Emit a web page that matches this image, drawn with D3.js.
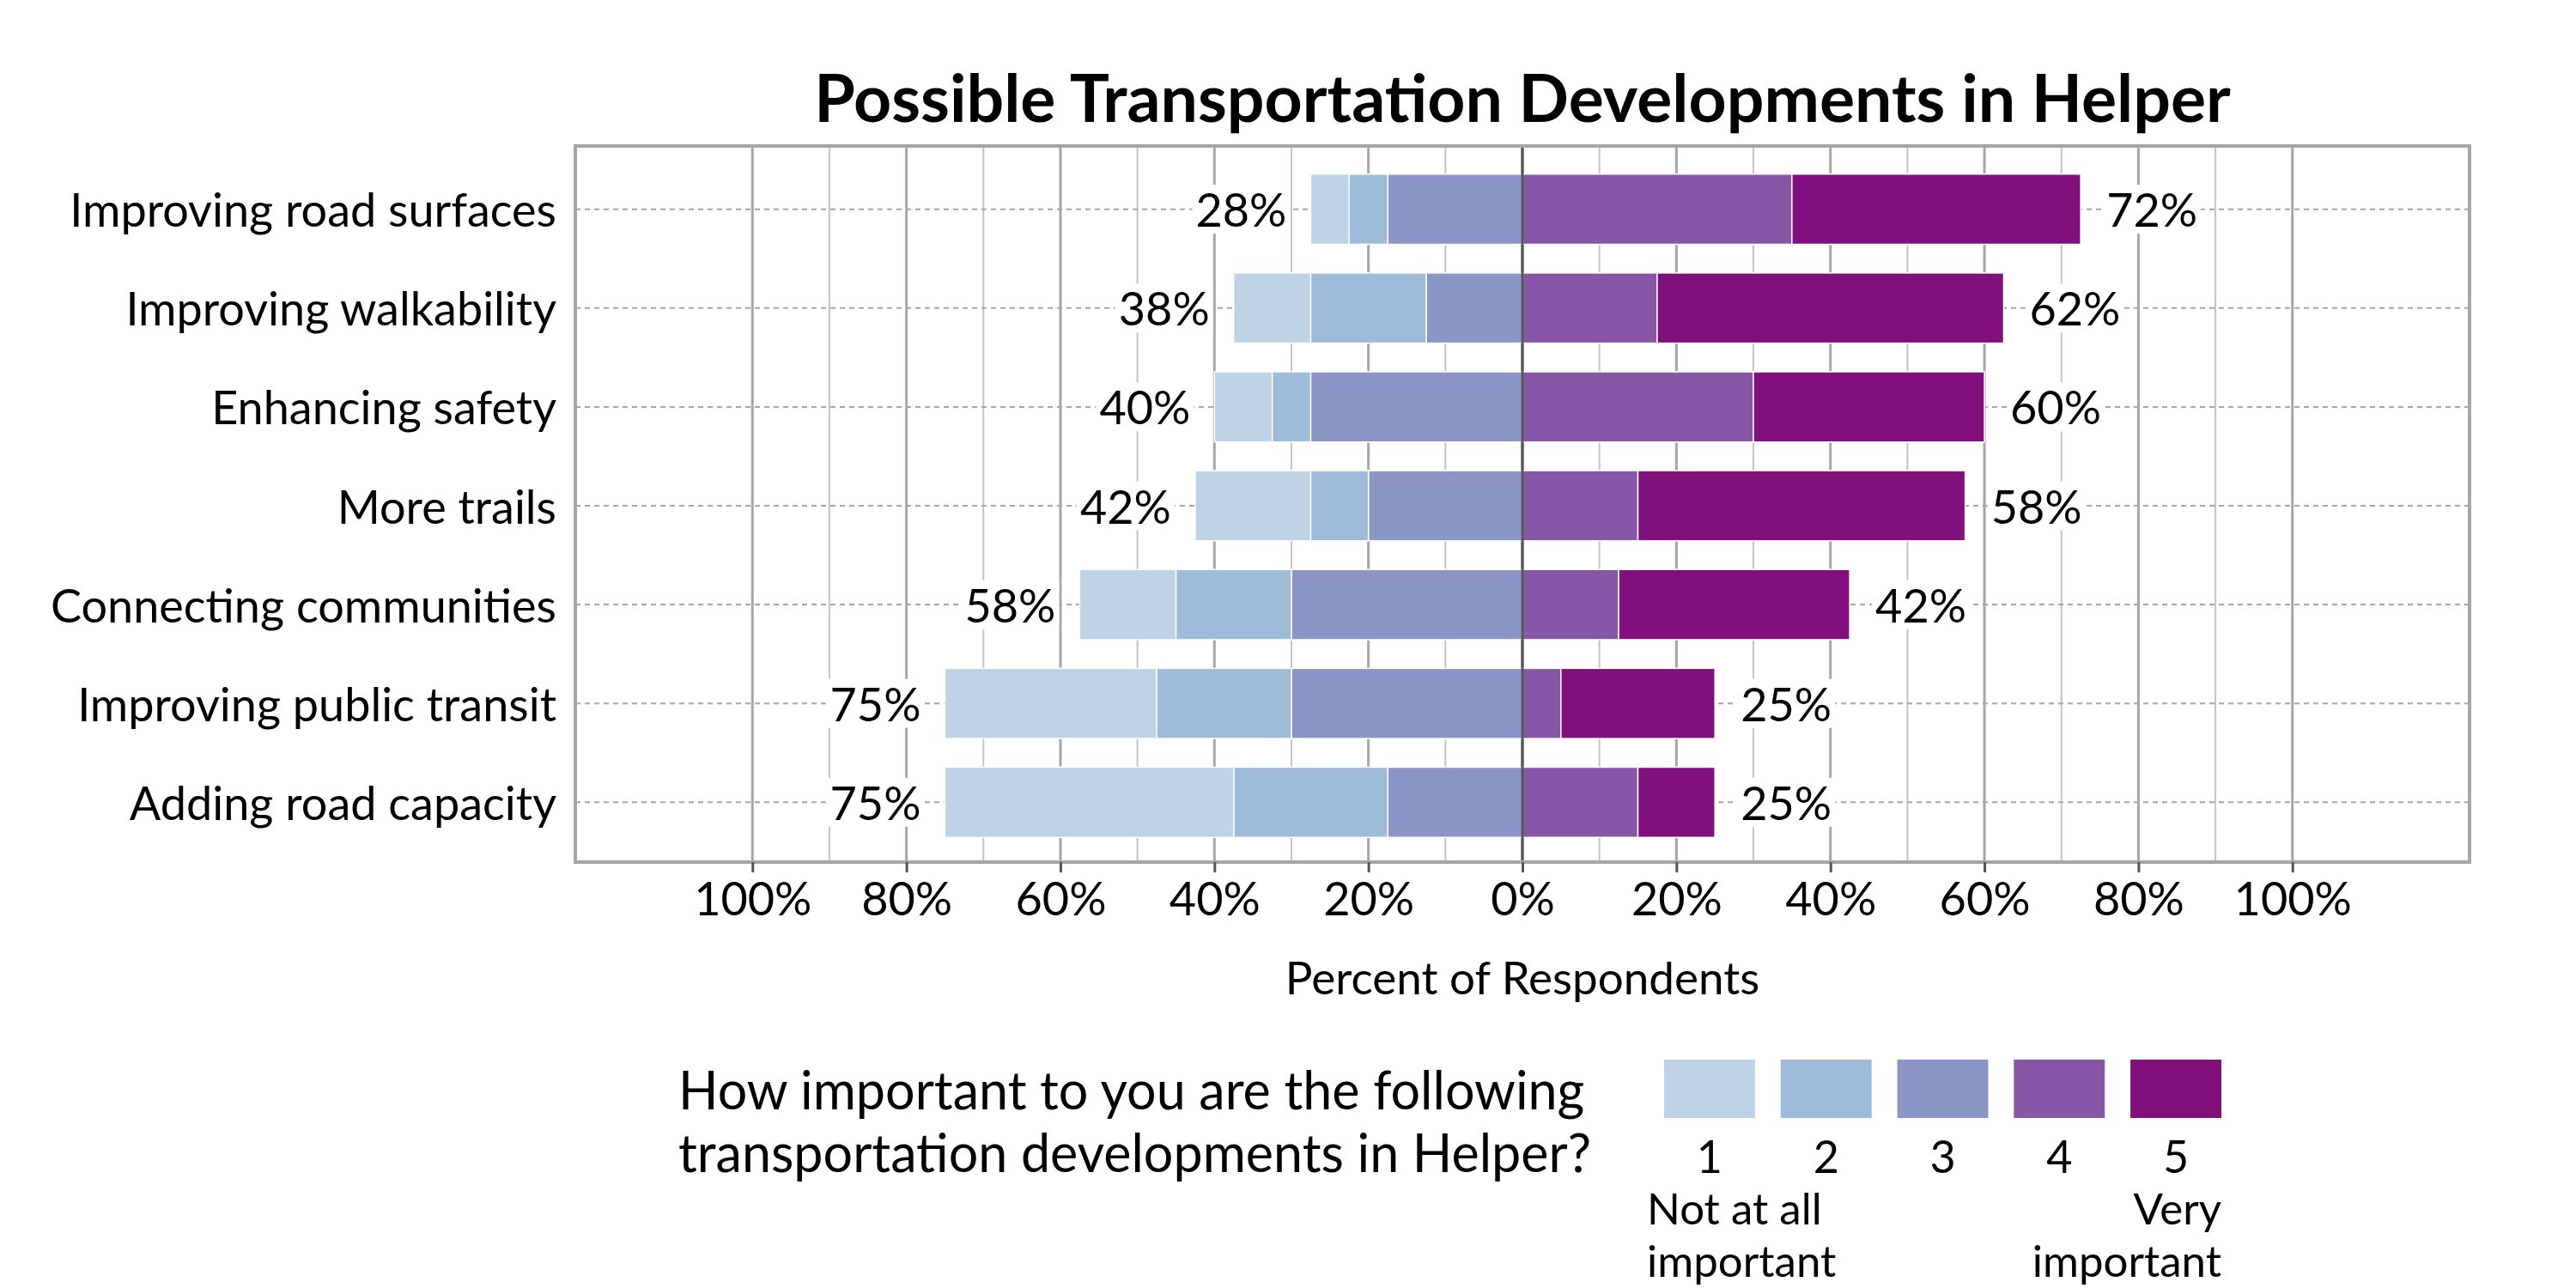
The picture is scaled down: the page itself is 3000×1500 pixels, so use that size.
<!DOCTYPE html>
<html>
<head>
<meta charset="utf-8">
<script src="https://cdn.jsdelivr.net/npm/d3@7"></script>
<style>
  body { margin: 0; background: #fff; }
  svg text { font-family: Lato, "Noto Sans", sans-serif; fill: #000; }
</style>
</head>
<body>
<svg id="chart" width="3000" height="1500"></svg>
<script>
const categories = ['Improving road surfaces', 'Improving walkability', 'Enhancing safety',
    'More trails', 'Connecting communities', 'Improving public transit', 'Adding road capacity'];

// percent of respondents per answer level (1 = not at all important ... 5 = very important)
const level1 = [5, 10, 7.5, 15, 12.5, 27.5, 37.5];
const level2 = [5, 15, 5, 7.5, 15, 17.5, 20];
const level3 = [17.5, 12.5, 27.5, 20, 30, 30, 17.5];
const level4 = [35, 17.5, 30, 15, 12.5, 5, 15];
const level5 = [37.5, 45, 30, 42.5, 30, 20, 10];

const levelNames = ['1', '2', '3', '4', '5'];
const levelColors = ['#bfd3e6', '#9ebcda', '#8c96c6', '#8856a7', '#810f7c'];
const xTicks = [-100, -80, -60, -40, -20, 0, 20, 40, 60, 80, 100];
const xMinorTicks = [-90, -70, -50, -30, -10, 10, 30, 50, 70, 90];

const title = 'Possible Transportation Developments in Helper';
const xTitle = 'Percent of Respondents';
const legendQuestion = ['How important to you are the following', 'transportation developments in Helper?'];
const lowLabel = ['Not at all', 'important'];
const highLabel = ['Very', 'important'];

const sizes = {left: 670, right: 2876, top: 170, bottom: 1004};

// survey software rounds half to even
function roundHalfEven(v) {
    const f = Math.floor(v);
    const d = v - f;
    if (Math.abs(d - 0.5) < 1e-9) return (f % 2 === 0) ? f : f + 1;
    return Math.round(v);
}

const rows = categories.map((name, i) => {
    const vals = [level1[i], level2[i], level3[i], level4[i], level5[i]];
    // negative side stacks outward from zero: 3, then 2, then 1
    const segs = [];
    let x = 0;
    [2, 1, 0].forEach(k => { segs.push({k, x0: x - vals[k], x1: x}); x -= vals[k]; });
    const neg = -x;
    x = 0;
    [3, 4].forEach(k => { segs.push({k, x0: x, x1: x + vals[k]}); x += vals[k]; });
    return {name, segs, neg, pos: x};
});

const svg = d3.select('#chart');

const xScale = d3.scaleLinear().domain([-123, 123]).range([sizes.left, sizes.right]);
const yScale = d3.scaleBand().domain(categories)
    .range([sizes.top + 4, sizes.bottom]).paddingInner(0.29).paddingOuter(0.25);

svg.append('text')
    .attr('x', xScale(0)).attr('y', 112)
    .attr('text-anchor', 'middle')
    .attr('dominant-baseline', 'central')
    .style('font-size', '77px').style('font-weight', 'bold')
    .text(title);

const grid = svg.append('g');
grid.selectAll('.minor')
    .data(xMinorTicks)
    .enter().append('line')
        .attr('x1', d => xScale(d)).attr('x2', d => xScale(d))
        .attr('y1', sizes.top).attr('y2', sizes.bottom)
        .attr('stroke', '#c4c4c4').attr('stroke-width', 2);
grid.selectAll('.major')
    .data(xTicks)
    .enter().append('line')
        .attr('x1', d => xScale(d)).attr('x2', d => xScale(d))
        .attr('y1', sizes.top).attr('y2', sizes.bottom)
        .attr('stroke', d => d === 0 ? '#5a5a5a' : '#a6a6a6')
        .attr('stroke-width', 3);

grid.selectAll('.rowline')
    .data(categories)
    .enter().append('line')
        .attr('x1', sizes.left).attr('x2', sizes.right)
        .attr('y1', d => yScale(d) + yScale.bandwidth() / 2)
        .attr('y2', d => yScale(d) + yScale.bandwidth() / 2)
        .attr('stroke', '#a6a6a6').attr('stroke-width', 2)
        .attr('stroke-dasharray', '6,5');

// bars
const barG = svg.append('g');
rows.forEach(r => {
    barG.selectAll(null)
        .data(r.segs)
        .enter().append('rect')
            .attr('x', d => xScale(d.x0))
            .attr('width', d => xScale(d.x1) - xScale(d.x0))
            .attr('y', yScale(r.name))
            .attr('height', yScale.bandwidth())
            .attr('fill', d => levelColors[d.k])
            .attr('stroke', '#fff').attr('stroke-width', 1.5);
});

// zero line over bars
svg.append('line')
    .attr('x1', xScale(0)).attr('x2', xScale(0))
    .attr('y1', sizes.top).attr('y2', sizes.bottom)
    .attr('stroke', '#5a5a5a').attr('stroke-width', 3);

// total labels with white boxes
function addLabel(x, y, anchor, txt) {
    const t = svg.append('text')
        .attr('x', x).attr('y', y)
        .attr('text-anchor', anchor)
        .attr('dominant-baseline', 'central')
        .style('font-size', '54px')
        .text(txt);
    const bb = t.node().getBBox();
    svg.insert('rect', () => t.node())
        .attr('x', bb.x - 4).attr('y', bb.y + 4)
        .attr('width', bb.width + 8).attr('height', bb.height - 8)
        .attr('fill', '#fff');
}
rows.forEach(r => {
    const cy = yScale(r.name) + yScale.bandwidth() / 2;
    addLabel(xScale(-r.neg) - 28, cy, 'end', roundHalfEven(r.neg) + '%');
    addLabel(xScale(r.pos) + 30, cy, 'start', roundHalfEven(r.pos) + '%');
});

// frame
svg.append('rect')
    .attr('x', sizes.left).attr('y', sizes.top)
    .attr('width', sizes.right - sizes.left).attr('height', sizes.bottom - sizes.top)
    .attr('fill', 'none').attr('stroke', '#a6a6a6').attr('stroke-width', 4);

// category labels
svg.selectAll('.cat')
    .data(categories)
    .enter().append('text')
        .attr('x', sizes.left - 22)
        .attr('y', d => yScale(d) + yScale.bandwidth() / 2)
        .attr('text-anchor', 'end')
        .attr('dominant-baseline', 'central')
        .style('font-size', '54px')
        .text(d => d);

// x axis
const xAxis = d3.axisBottom(xScale)
    .tickValues(xTicks)
    .tickSize(12)
    .tickPadding(12)
    .tickFormat(d => Math.abs(d) + '%');
const axG = svg.append('g')
    .attr('transform', `translate(0, ${sizes.bottom})`)
    .call(xAxis);
axG.select('.domain').remove();
axG.selectAll('.tick line').attr('stroke', '#555').attr('stroke-width', 3);
axG.selectAll('.tick text')
    .style('font-size', '54px')
    .style('font-family', 'Lato, "Noto Sans", sans-serif')
    .attr('fill', '#000');

svg.append('text')
    .attr('x', xScale(0)).attr('y', 1137)
    .attr('text-anchor', 'middle')
    .attr('dominant-baseline', 'central')
    .style('font-size', '53px')
    .text(xTitle);

// legend
const legend = svg.append('g');
legend.selectAll('.q')
    .data(legendQuestion)
    .enter().append('text')
        .attr('x', 790)
        .attr('y', (d, i) => 1268 + i * 73)
        .attr('dominant-baseline', 'central')
        .style('font-size', '61px')
        .text(d => d);

const swatch = d3.scaleBand().domain(levelNames).range([1938, 2587]).paddingInner(0.22);
legend.selectAll('.sw')
    .data(levelNames)
    .enter().append('rect')
        .attr('x', d => swatch(d))
        .attr('y', 1234)
        .attr('width', swatch.bandwidth())
        .attr('height', 68)
        .attr('fill', (d, i) => levelColors[i]);
legend.selectAll('.num')
    .data(levelNames)
    .enter().append('text')
        .attr('x', d => swatch(d) + swatch.bandwidth() / 2)
        .attr('y', 1346)
        .attr('text-anchor', 'middle')
        .attr('dominant-baseline', 'central')
        .style('font-size', '52px')
        .text(d => d);
legend.selectAll('.low')
    .data(lowLabel)
    .enter().append('text')
        .attr('x', swatch(levelNames[0]) - 20)
        .attr('y', (d, i) => 1406 + i * 61)
        .attr('dominant-baseline', 'central')
        .style('font-size', '51px')
        .text(d => d);
legend.selectAll('.high')
    .data(highLabel)
    .enter().append('text')
        .attr('x', swatch(levelNames[4]) + swatch.bandwidth())
        .attr('y', (d, i) => 1406 + i * 61)
        .attr('text-anchor', 'end')
        .attr('dominant-baseline', 'central')
        .style('font-size', '51px')
        .text(d => d);
</script>
</body>
</html>
